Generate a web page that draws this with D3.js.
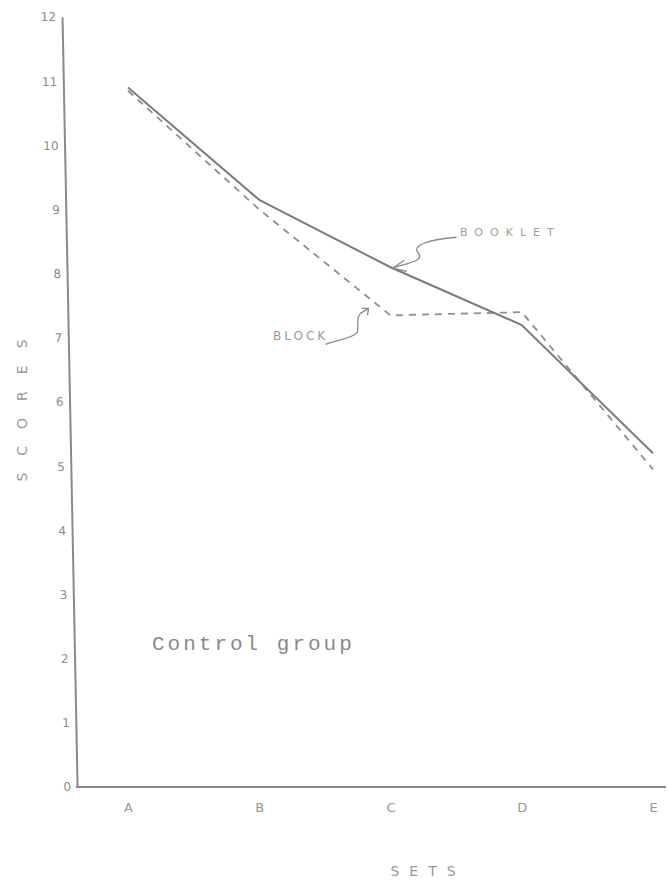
<!DOCTYPE html>
<html>
<head>
<meta charset="utf-8">
<script src="https://cdn.jsdelivr.net/npm/d3@7"></script>
<style>
  body { margin: 0; background: #fff; }
</style>
</head>
<body>
<svg id="chart"></svg>
<script>
// values
var sets = ["A", "B", "C", "D", "E"];
var booklet = [10.9, 9.15, 8.1, 7.2, 5.2];
var block = [10.85, 9.0, 7.35, 7.4, 4.95];
var yTicks = [0, 1, 2, 3, 4, 5, 6, 7, 8, 9, 10, 11, 12];

var svg = d3.select("#chart")
    .attr("width", 668)
    .attr("height", 886)

var ink = "#8a8a8a";

var xScale = d3.scalePoint().domain(sets).range([128, 653]),
    yScale = d3.scaleLinear().domain([0, 12]).range([787, 17]);

// x axis (plain line + letters, no ticks)
var xAxis = svg.append("g")
   .attr("transform", "translate(0,787)")
   .call(d3.axisBottom(xScale).tickSize(0).tickPadding(16))
xAxis.select(".domain").remove()
xAxis.selectAll("text")
   .attr("fill", "#999")
   .attr("font-family", "DejaVu Sans")
   .attr("font-size", "13px")

svg.append("line")
   .attr("x1", 76).attr("x2", 666)
   .attr("y1", 787).attr("y2", 787)
   .attr("stroke", ink)
   .attr("stroke-width", 2)

// y axis, hand drawn so it leans slightly
var yAxis = svg.append("g")
   .attr("transform", "translate(61.7,0) skewX(1.12)")
   .call(d3.axisLeft(yScale).tickValues(yTicks).tickSize(0).tickPadding(6))
yAxis.select(".domain")
   .attr("stroke", ink)
   .attr("stroke-width", 2)
yAxis.selectAll("text")
   .attr("fill", "#8c8c8c")
   .attr("font-family", "DejaVu Sans")
   .attr("font-size", "12px")

// axis titles
svg.append("text")
   .attr("transform", "translate(27,402) rotate(-90)")
   .attr("text-anchor", "middle")
   .attr("fill", "#9a9a9a")
   .attr("font-family", "DejaVu Sans")
   .attr("font-size", "14px")
   .attr("letter-spacing", "17px")
   .text("SCORES");

svg.append("text")
   .attr("x", 428)
   .attr("y", 876)
   .attr("text-anchor", "middle")
   .attr("fill", "#9a9a9a")
   .attr("font-family", "DejaVu Sans")
   .attr("font-size", "14px")
   .attr("letter-spacing", "10px")
   .text("SETS");

var line = d3.line()
    .x(function(d, i) { return xScale(sets[i]); })
    .y(function(d) { return yScale(d); });

svg.append("path")
   .datum(block)
   .attr("d", line)
   .attr("fill", "none")
   .attr("stroke", "#8f8f8f")
   .attr("stroke-width", 1.8)
   .attr("stroke-dasharray", "7,6")

svg.append("path")
   .datum(booklet)
   .attr("d", line)
   .attr("fill", "none")
   .attr("stroke", "#7c7c7c")
   .attr("stroke-width", 2)

// labels with curly arrows
var bx = xScale("C"), by = yScale(booklet[2]);
svg.append("path")
   .attr("d", "M" + (bx + 66) + "," + (by - 30) + " C" + (bx + 40) + "," + (by - 28) + " " + (bx + 20) + "," + (by - 22) + " " + (bx + 28) + "," + (by - 14)
        + " C" + (bx + 34) + "," + (by - 6) + " " + (bx + 16) + "," + (by - 4) + " " + (bx + 2) + "," + (by + 1))
   .attr("fill", "none")
   .attr("stroke", ink)
   .attr("stroke-width", 1.3)
svg.append("path")
   .attr("d", "M" + (bx + 14) + "," + (by - 7) + " L" + (bx + 2) + "," + (by + 1) + " L" + (bx + 16) + "," + (by + 4))
   .attr("fill", "none")
   .attr("stroke", ink)
   .attr("stroke-width", 1.3)

svg.append("text")
   .attr("x", 460)
   .attr("y", 236)
   .attr("fill", "#a0a0a0")
   .attr("font-family", "DejaVu Sans")
   .attr("font-size", "11px")
   .attr("letter-spacing", "7px")
   .text("BOOKLET");

var kx = xScale("C") - 20, ky = yScale(block[2]) - 6;
svg.append("path")
   .attr("d", "M" + (kx - 45) + "," + (ky + 35) + " C" + (kx - 30) + "," + (ky + 30) + " " + (kx - 18) + "," + (ky + 28) + " " + (kx - 14) + "," + (ky + 24)
        + " C" + (kx - 10) + "," + (ky + 18) + " " + (kx - 16) + "," + (ky + 10) + " " + (kx - 10) + "," + (ky + 4)
        + " L" + (kx - 2) + "," + (ky - 1))
   .attr("fill", "none")
   .attr("stroke", ink)
   .attr("stroke-width", 1.3)
svg.append("path")
   .attr("d", "M" + (kx - 9) + "," + (ky - 1) + " L" + (kx - 2) + "," + (ky - 1) + " L" + (kx - 3) + "," + (ky + 6))
   .attr("fill", "none")
   .attr("stroke", ink)
   .attr("stroke-width", 1.3)

svg.append("text")
   .attr("x", 273)
   .attr("y", 340)
   .attr("fill", "#9a9a9a")
   .attr("font-family", "DejaVu Sans")
   .attr("font-size", "12px")
   .attr("letter-spacing", "3px")
   .text("BLOCK");

// typed caption
svg.append("text")
   .attr("x", 152)
   .attr("y", 650)
   .attr("fill", "#8a8a8a")
   .attr("font-family", "Liberation Mono")
   .attr("font-size", "21px")
   .attr("letter-spacing", "3px")
   .text("Control group");
</script>
</body>
</html>
